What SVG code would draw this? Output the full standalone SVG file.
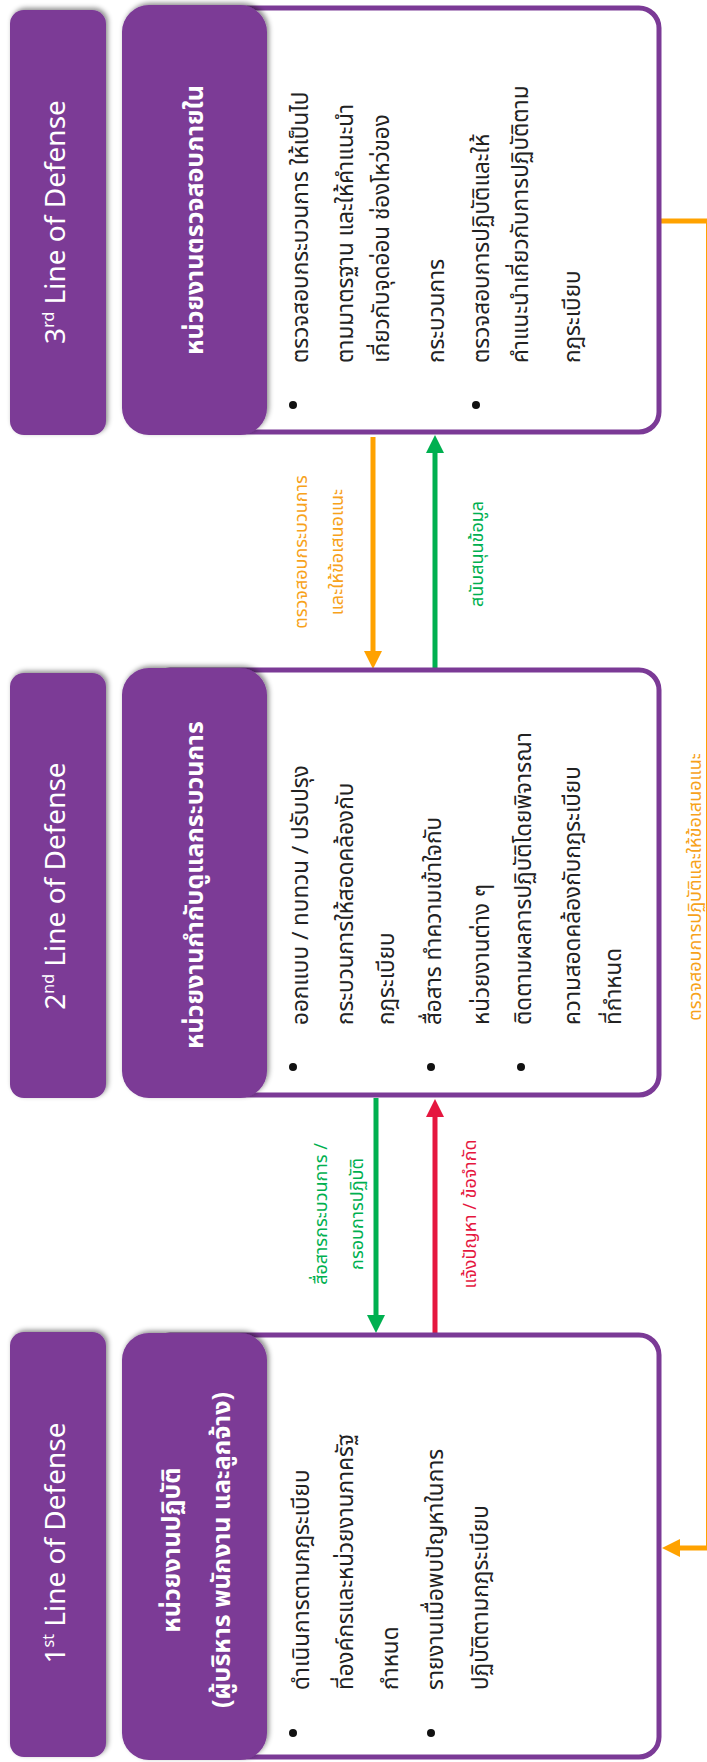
<svg xmlns="http://www.w3.org/2000/svg" width="707" height="1762" viewBox="0 0 707 1762">
<style>
.lblbox{fill:#7B3A96;filter:url(#sh)}
.hdrbox{fill:#7B3A96;filter:url(#sh)}
.outer{fill:#ffffff;stroke:#7B3A96;stroke-width:5}
.lbl{font-family:"Noto Sans","Open Sans","Liberation Sans",sans-serif;font-size:28px;fill:#ffffff;text-anchor:middle}
.sup{font-size:16px}
.hdr{font-family:"Noto Sans Thai","Noto Sans Thai Looped","Noto Sans","DejaVu Sans",sans-serif;font-size:25px;font-weight:bold;fill:#ffffff;text-anchor:middle}
.body{font-family:"Noto Sans Thai","Noto Sans Thai Looped","Noto Sans","DejaVu Sans",sans-serif;font-size:22.5px;fill:#222222}
.bul{fill:#111111}
.cl{font-family:"Noto Sans Thai","Noto Sans Thai Looped","Noto Sans","DejaVu Sans",sans-serif;font-size:18px;text-anchor:middle}
.or{stroke:#FFA200;stroke-width:5;fill:none}
.gr{stroke:#00B050;stroke-width:5;fill:none}
.rd{stroke:#E5173F;stroke-width:5;fill:none}
</style>
<defs>
<filter id="sh" x="-20%" y="-20%" width="140%" height="140%">
<feDropShadow dx="2" dy="-2" stdDeviation="2.5" flood-color="#000000" flood-opacity="0.45"/>
</filter>
<marker id="ao" viewBox="0 0 18 18" refX="1" refY="9" markerWidth="18" markerHeight="18" markerUnits="userSpaceOnUse" orient="auto"><path d="M0,0 L18,9 L0,18 Z" fill="#FFA200"/></marker>
<marker id="ag" viewBox="0 0 18 18" refX="1" refY="9" markerWidth="18" markerHeight="18" markerUnits="userSpaceOnUse" orient="auto"><path d="M0,0 L18,9 L0,18 Z" fill="#00B050"/></marker>
<marker id="ar" viewBox="0 0 18 18" refX="1" refY="9" markerWidth="18" markerHeight="18" markerUnits="userSpaceOnUse" orient="auto"><path d="M0,0 L18,9 L0,18 Z" fill="#E5173F"/></marker>
</defs>

<g id="connectors">
<path class="or" d="M659,221 H708.5 V1548 H679" marker-end="url(#ao)"/>
<path class="or" d="M373,437 V652" marker-end="url(#ao)"/>
<path class="gr" d="M435,668 V452" marker-end="url(#ag)"/>
<path class="gr" d="M376,1098 V1316" marker-end="url(#ag)"/>
<path class="rd" d="M435,1335 V1116" marker-end="url(#ar)"/>
<text class="cl" fill="#F7A21B" transform="translate(307,552) rotate(-90)">ตรวจสอบกระบวนการ</text>
<text class="cl" fill="#F7A21B" transform="translate(343,552) rotate(-90)">และให้ข้อเสนอแนะ</text>
<text class="cl" fill="#00B050" transform="translate(483,554) rotate(-90)">สนับสนุนข้อมูล</text>
<text class="cl" fill="#00B050" transform="translate(327,1214) rotate(-90)">สื่อสารกระบวนการ /</text>
<text class="cl" fill="#00B050" transform="translate(363,1214) rotate(-90)">กรอบการปฏิบัติ</text>
<text class="cl" fill="#E5173F" transform="translate(476,1214) rotate(-90)">แจ้งปัญหา / ข้อจำกัด</text>
<text class="cl" fill="#F7A21B" transform="translate(701,887) rotate(-90)">ตรวจสอบการปฏิบัติและให้ข้อเสนอแนะ</text>
</g>

<g id="node-3">
<rect class="lblbox" x="10" y="10" width="96" height="425" rx="14"/>
<text class="lbl" transform="translate(65,222) rotate(-90)">3<tspan class="sup" dy="-11">rd</tspan><tspan dy="11"> Line of Defense</tspan></text>
<rect class="outer" x="150" y="8" width="509" height="424" rx="20"/>
<rect class="hdrbox" x="122" y="5" width="145" height="430" rx="27"/>
<text class="hdr" transform="translate(203,220) rotate(-90)">หน่วยงานตรวจสอบภายใน</text>
<circle class="bul" cx="293" cy="405" r="4"/>
<circle class="bul" cx="476" cy="405" r="4"/>
<text class="body" transform="translate(308,363) rotate(-90)">ตรวจสอบกระบวนการ ให้เป็นไป</text>
<text class="body" transform="translate(353,363) rotate(-90)">ตามมาตรฐาน และให้คำแนะนำ</text>
<text class="body" transform="translate(389,363) rotate(-90)">เกี่ยวกับจุดอ่อน ช่องโหว่ของ</text>
<text class="body" transform="translate(444,363) rotate(-90)">กระบวนการ</text>
<text class="body" transform="translate(489,363) rotate(-90)">ตรวจสอบการปฏิบัติและให้</text>
<text class="body" transform="translate(528,363) rotate(-90)">คำแนะนำเกี่ยวกับการปฏิบัติตาม</text>
<text class="body" transform="translate(580,363) rotate(-90)">กฎระเบียบ</text>
</g>

<g id="node-2">
<rect class="lblbox" x="10" y="673" width="96" height="425" rx="14"/>
<text class="lbl" transform="translate(65,886) rotate(-90)">2<tspan class="sup" dy="-11">nd</tspan><tspan dy="11"> Line of Defense</tspan></text>
<rect class="outer" x="150" y="670" width="509" height="425" rx="20"/>
<rect class="hdrbox" x="122" y="668" width="145" height="430" rx="27"/>
<text class="hdr" transform="translate(203,885) rotate(-90)">หน่วยงานกำกับดูแลกระบวนการ</text>
<circle class="bul" cx="293" cy="1067" r="4"/>
<circle class="bul" cx="431" cy="1067" r="4"/>
<circle class="bul" cx="521" cy="1067" r="4"/>
<text class="body" transform="translate(308,1025) rotate(-90)">ออกแบบ / ทบทวน / ปรับปรุง</text>
<text class="body" transform="translate(353,1025) rotate(-90)">กระบวนการให้สอดคล้องกับ</text>
<text class="body" transform="translate(394,1025) rotate(-90)">กฎระเบียบ</text>
<text class="body" transform="translate(441,1025) rotate(-90)">สื่อสาร ทำความเข้าใจกับ</text>
<text class="body" transform="translate(489,1025) rotate(-90)">หน่วยงานต่าง ๆ</text>
<text class="body" transform="translate(531,1025) rotate(-90)">ติดตามผลการปฏิบัติโดยพิจารณา</text>
<text class="body" transform="translate(580,1025) rotate(-90)">ความสอดคล้องกับกฎระเบียบ</text>
<text class="body" transform="translate(621,1025) rotate(-90)">ที่กำหนด</text>
</g>

<g id="node-1">
<rect class="lblbox" x="10" y="1332" width="96" height="425" rx="14"/>
<text class="lbl" transform="translate(65,1543) rotate(-90)">1<tspan class="sup" dy="-11">st</tspan><tspan dy="11">  Line of Defense</tspan></text>
<rect class="outer" x="150" y="1335" width="509" height="422" rx="20"/>
<rect class="hdrbox" x="122" y="1333" width="145" height="427" rx="27"/>
<text class="hdr" transform="translate(180,1550) rotate(-90)">หน่วยงานปฏิบัติ</text>
<text class="hdr" transform="translate(230,1550) rotate(-90)">(ผู้บริหาร พนักงาน และลูกจ้าง)</text>
<circle class="bul" cx="293" cy="1733" r="4"/>
<circle class="bul" cx="431" cy="1733" r="4"/>
<text class="body" transform="translate(309,1690) rotate(-90)">ดำเนินการตามกฎระเบียบ</text>
<text class="body" transform="translate(353,1690) rotate(-90)">ที่องค์กรและหน่วยงานภาครัฐ</text>
<text class="body" transform="translate(398,1690) rotate(-90)">กำหนด</text>
<text class="body" transform="translate(443,1690) rotate(-90)">รายงานเมื่อพบปัญหาในการ</text>
<text class="body" transform="translate(488,1690) rotate(-90)">ปฏิบัติตามกฎระเบียบ</text>
</g>
</svg>
